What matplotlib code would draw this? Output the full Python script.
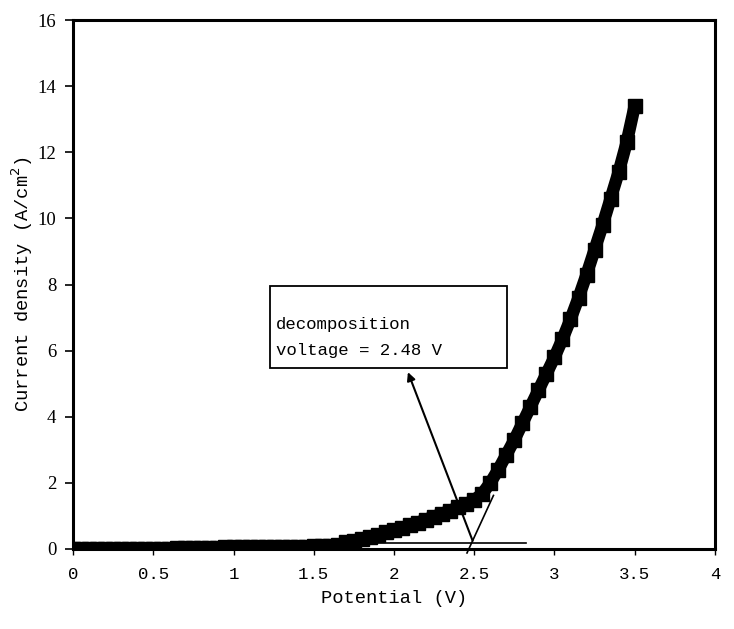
import matplotlib
matplotlib.use("Agg")
import matplotlib.pyplot as plt
import matplotlib.patches as patches
import numpy as np

# potential (V) and current density (A/cm2)
potential = [0.00, 0.05, 0.10, 0.15, 0.20, 0.25, 0.30, 0.35, 0.40, 0.45,
             0.50, 0.55, 0.60, 0.65, 0.70, 0.75, 0.80, 0.85, 0.90, 0.95,
             1.00, 1.05, 1.10, 1.15, 1.20, 1.25, 1.30, 1.35, 1.40, 1.45,
             1.50, 1.55, 1.60, 1.65, 1.70, 1.75, 1.80, 1.85, 1.90, 1.95,
             2.00, 2.05, 2.10, 2.15, 2.20, 2.25, 2.30, 2.35, 2.40, 2.45,
             2.50, 2.55, 2.60, 2.65, 2.70, 2.75, 2.80, 2.85, 2.90, 2.95,
             3.00, 3.05, 3.10, 3.15, 3.20, 3.25, 3.30, 3.35, 3.40, 3.45,
             3.50]
current = [0.00, 0.00, 0.00, 0.00, 0.00, 0.00, 0.00, 0.00, 0.00, 0.01,
           0.01, 0.01, 0.01, 0.02, 0.02, 0.02, 0.02, 0.03, 0.03, 0.05,
           0.06, 0.06, 0.06, 0.06, 0.06, 0.07, 0.07, 0.07, 0.07, 0.07,
           0.08, 0.08, 0.09, 0.12, 0.20, 0.25, 0.30, 0.36, 0.43, 0.50,
           0.57, 0.64, 0.72, 0.80, 0.89, 0.98, 1.07, 1.16, 1.26, 1.36,
           1.48, 1.67, 2.00, 2.40, 2.85, 3.30, 3.80, 4.30, 4.80, 5.30,
           5.80, 6.35, 6.95, 7.60, 8.30, 9.05, 9.80, 10.60, 11.40, 12.30,
           13.40]

xticks = [0, 0.5, 1, 1.5, 2, 2.5, 3, 3.5, 4]
xticklabels = ["0", "0.5", "1", "1.5", "2", "2.5", "3", "3.5", "4"]
yticks = [0, 2, 4, 6, 8, 10, 12, 14, 16]

# construction lines
base_x = [0.44, 2.82]
base_y = [0.17, 0.17]
tan_x = [2.455, 2.62]
tan_y = [-0.12, 1.62]
arrow_from = (2.49, 0.25)
arrow_to = (2.087, 5.35)

mono = "Liberation Mono"
serif = "Liberation Serif"

fig = plt.figure(figsize=(7.34, 6.29), dpi=100)
ax = fig.add_axes([0.0995, 0.1272, 0.8745, 0.8408])

ax.plot(potential, current, color="black", lw=9, marker="s", ms=9.5,
        solid_capstyle="butt", solid_joinstyle="miter", zorder=3)

ax.plot(base_x, base_y, color="black", lw=1.2, zorder=4)
ax.plot(tan_x, tan_y, color="black", lw=1.2, zorder=4, clip_on=False)
ax.annotate("", xy=arrow_to, xytext=arrow_from,
            arrowprops=dict(arrowstyle="-|>", color="black", lw=1.5,
                            mutation_scale=12, shrinkA=0, shrinkB=0),
            zorder=5)

box = patches.Rectangle((1.227, 5.47), 2.704 - 1.227, 7.95 - 5.47,
                        facecolor="white", edgecolor="black", lw=1.3, zorder=5)
ax.add_patch(box)
ax.text(1.262, 6.78, "decomposition", family=mono, fontsize=12.5,
        va="center", ha="left", zorder=6)
ax.text(1.262, 6.02, "voltage = 2.48 V", family=mono, fontsize=12.5,
        va="center", ha="left", zorder=6)

ax.set_xlim(0, 4)
ax.set_ylim(0, 16)
ax.set_xticks(xticks)
ax.set_xticklabels(xticklabels, family=mono, fontsize=12.5)
ax.set_yticks(yticks)
ax.set_yticklabels([str(v) for v in yticks], family=serif, fontsize=13.5)
ax.tick_params(axis="x", direction="out", length=4, width=1, pad=9)
ax.tick_params(axis="y", direction="out", length=6, width=1.2, pad=6)

for s in ax.spines.values():
    s.set_linewidth(2.2)
    s.set_color("black")

ax.set_xlabel("Potential (V)", family=mono, fontsize=13.5, labelpad=6)
ax.set_ylabel("Current density (A/cm$^2$)", family=mono, fontsize=13.5,
              labelpad=2)

fig.savefig("out.png", dpi=100)
